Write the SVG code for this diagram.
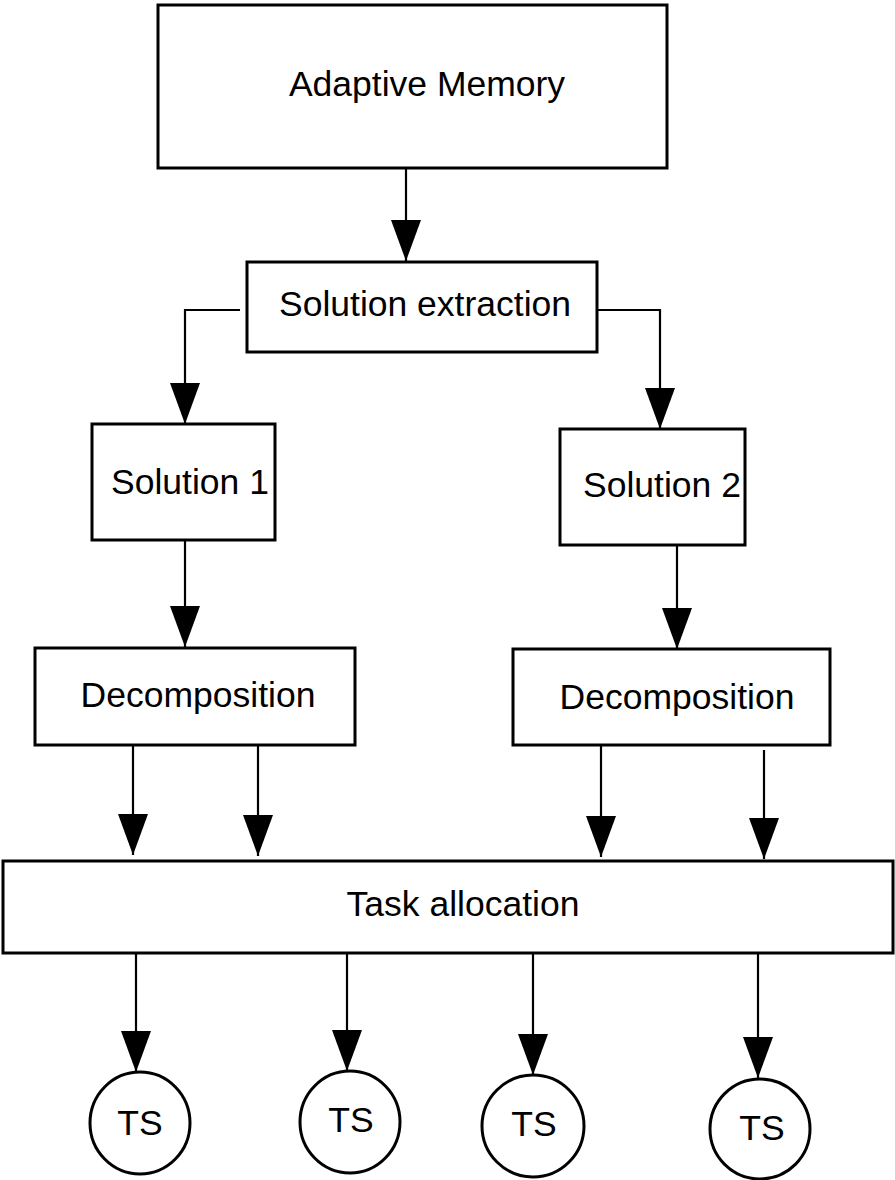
<svg xmlns="http://www.w3.org/2000/svg" width="895" height="1180" viewBox="0 0 895 1180">
<style>
.box{fill:#fff;stroke:#000;stroke-width:3}
.lbl{font-family:"Liberation Sans",Arial,sans-serif;font-size:35.5px;fill:#000;text-anchor:middle}
.con{fill:none;stroke:#000;stroke-width:2.2}
</style>
<defs>
<marker id="ah" markerUnits="userSpaceOnUse" markerWidth="42" markerHeight="32" viewBox="0 0 42 32" refX="41" refY="16" orient="auto">
<path d="M0,1 L41,16 L0,31 Z" fill="#000"/>
</marker>
</defs>
<rect width="895" height="1180" fill="#fff"/>
<g id="connectors">
<path class="con" d="M406,168 V261" marker-end="url(#ah)"/>
<path class="con" d="M240,310 H185 V424" marker-end="url(#ah)"/>
<path class="con" d="M598,310 H660 V429" marker-end="url(#ah)"/>
<path class="con" d="M185,541 V647" marker-end="url(#ah)"/>
<path class="con" d="M677,545 V649" marker-end="url(#ah)"/>
<path class="con" d="M133,744 V855" marker-end="url(#ah)"/>
<path class="con" d="M258,746 V856" marker-end="url(#ah)"/>
<path class="con" d="M601,746 V857" marker-end="url(#ah)"/>
<path class="con" d="M764,750 V859" marker-end="url(#ah)"/>
<path class="con" d="M136,953 V1072" marker-end="url(#ah)"/>
<path class="con" d="M347,948 V1071" marker-end="url(#ah)"/>
<path class="con" d="M533,950 V1075" marker-end="url(#ah)"/>
<path class="con" d="M758,951 V1078" marker-end="url(#ah)"/>
</g>
<g id="adaptive-memory">
<rect class="box" x="158" y="5" width="509" height="163"/>
<text class="lbl" x="427" y="96">Adaptive Memory</text>
</g>
<g id="solution-extraction">
<rect class="box" x="247" y="262" width="350" height="90"/>
<text class="lbl" x="425" y="316">Solution extraction</text>
</g>
<g id="solution-1">
<rect class="box" x="92" y="424" width="183" height="116"/>
<text class="lbl" x="190" y="494">Solution 1</text>
</g>
<g id="solution-2">
<rect class="box" x="560" y="429" width="185" height="116"/>
<text class="lbl" x="662" y="497">Solution 2</text>
</g>
<g id="decomposition-1">
<rect class="box" x="35" y="648" width="320" height="97"/>
<text class="lbl" x="198" y="707">Decomposition</text>
</g>
<g id="decomposition-2">
<rect class="box" x="513" y="649" width="317" height="96"/>
<text class="lbl" x="677" y="709">Decomposition</text>
</g>
<g id="task-allocation">
<rect class="box" x="3" y="861" width="890" height="92"/>
<text class="lbl" x="463" y="916">Task allocation</text>
</g>
<g id="ts-1">
<ellipse class="box" cx="140" cy="1123" rx="50" ry="51"/>
<text class="lbl" x="140" y="1135">TS</text>
</g>
<g id="ts-2">
<ellipse class="box" cx="350" cy="1122" rx="50" ry="51"/>
<text class="lbl" x="351" y="1132">TS</text>
</g>
<g id="ts-3">
<ellipse class="box" cx="533" cy="1126" rx="51" ry="51"/>
<text class="lbl" x="534" y="1136">TS</text>
</g>
<g id="ts-4">
<ellipse class="box" cx="760" cy="1129" rx="50" ry="50"/>
<text class="lbl" x="762" y="1140">TS</text>
</g>
</svg>
